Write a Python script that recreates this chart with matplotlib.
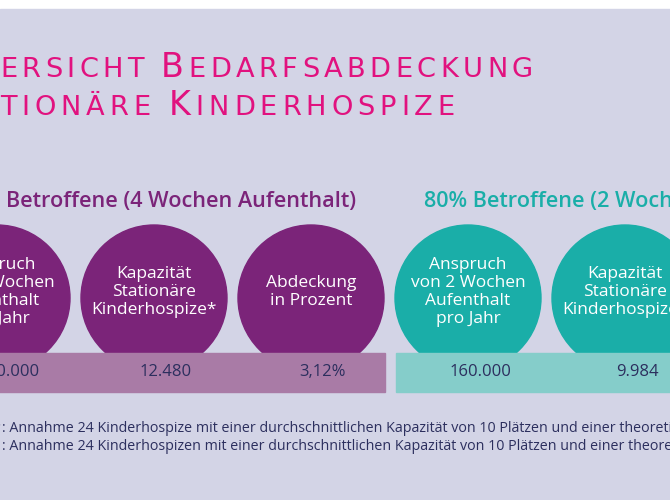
import matplotlib.pyplot as plt
from matplotlib.patches import Circle, Rectangle

# -------------------------
# Data
# -------------------------
title_line1 = [("Ü", "big"), ("B", "small"), ("ERSICHT ", "small"), ("B", "big"), ("EDARFSABDECKUNG", "small")]
title_line2 = [("S", "big"), ("TA", "small"), ("TIONÄRE ", "small"), ("K", "big"), ("INDERHOSPIZE", "small")]

group_titles = ["100% Betroffene (4 Wochen Aufenthalt)", "80% Betroffene (2 Wochen Aufenthalt)"]

labels_4w = ["Anspruch\nvon 4 Wochen\nAufenthalt\npro Jahr", "Kapazität\nStationäre\nKinderhospize*", "Abdeckung\nin Prozent"]
values_4w = ["400.000", "12.480", "3,12%"]

labels_2w = ["Anspruch\nvon 2 Wochen\nAufenthalt\npro Jahr", "Kapazität\nStationäre\nKinderhospize*", "Abdeckung\nin Prozent"]
values_2w = ["160.000", "9.984", "6,24%"]

footnotes = [
    ("*", ": Annahme 24 Kinderhospize mit einer durchschnittlichen Kapazität von 10 Plätzen und einer theoretischen Auslastung von 52 Wochen"),
    ("**", ": Annahme 24 Kinderhospizen mit einer durchschnittlichen Kapazität von 10 Plätzen und einer theoretischen Auslastung von 80%"),
]

# colours
BG = "#d3d4e6"
MAGENTA = "#e1127f"
PURPLE = "#7b2479"
PURPLE_BAR = "#a97ba6"
TEAL = "#1aaea8"
TEAL_BAR = "#85cdca"
NAVY = "#2c2f5e"

FONT = "Open Sans"
TITLE_FONT = "DejaVu Sans"

# -------------------------
# Canvas in pixel coordinates
# -------------------------
fig = plt.figure(figsize=(6.7, 5.0), dpi=100)
ax = fig.add_axes([0, 0, 1, 1])
ax.set_xlim(0, 670)
ax.set_ylim(500, 0)
ax.axis("off")
fig.patch.set_facecolor("white")

ax.add_patch(Rectangle((0, 9), 670, 491, color=BG, zorder=0))

fig.canvas.draw()
renderer = fig.canvas.get_renderer()

BIG, SMALL = 24, 19.6


def lay_out(chars, x, tracking, keep):
    # draws the characters one by one from x, returns the end position
    cx = x
    for ch, size in chars:
        if ch == " ":
            cx += size * 100 / 72 * 0.3 + tracking
            continue
        t = ax.text(cx, 0, ch, fontsize=size, color=MAGENTA, family=TITLE_FONT,
                    ha="left", va="baseline")
        w = t.get_window_extent(renderer=renderer).width
        if not keep:
            t.remove()
        else:
            t.set_y(keep)
        cx += w + tracking
    return cx


def small_caps(pieces, y, start_index, target_width):
    chars = [(ch, BIG if kind == "big" else SMALL) for s, kind in pieces for ch in s]
    n_before = sum(len(s) for s, _ in pieces[:start_index])
    visible = chars[n_before:]
    natural = lay_out(visible, 0, 0, None)
    tracking = (target_width - natural) / (len(visible) - 1)
    lay_out(visible, 0, tracking, y)
    # hidden part left of the edge
    lead = chars[:n_before]
    w_lead = lay_out(lead, 0, tracking, None)
    lay_out(lead, -w_lead, tracking, y)


small_caps(title_line1, 77, 2, 533)
small_caps(title_line2, 115, 2, 455)

# -------------------------
# Circles and bars
# -------------------------
r = 73
spacing = 157
first_x = -3
circle_y = 298
bar_top, bar_h = 353, 39

groups = [
    (labels_4w, values_4w, PURPLE, PURPLE_BAR),
    (labels_2w, values_2w, TEAL, TEAL_BAR),
]

for g, (labels, values, col, bar_col) in enumerate(groups):
    xs = [first_x + spacing * (g * 3 + i) for i in range(len(labels))]

    if g == 0:
        # the percentage part lies left of the visible area
        pct, rest = group_titles[g].split(" ", 1)
        ax.text(6, 207, rest, fontsize=15.6, color=col, family=FONT,
                fontweight="semibold", ha="left", va="baseline")
        ax.text(6, 207, pct + " ", fontsize=15.6, color=col, family=FONT,
                fontweight="semibold", ha="right", va="baseline")
    else:
        ax.text(424, 207, group_titles[g], fontsize=15.6, color=col, family=FONT,
                fontweight="semibold", ha="left", va="baseline")

    for xc, lab in zip(xs, labels):
        ax.add_patch(Circle((xc, circle_y), r, color=col, zorder=2))
        ax.text(xc, 292, lab, fontsize=12.5, color="white", family=FONT,
                ha="center", va="center", linespacing=1.18, zorder=3)

    ax.add_patch(Rectangle((xs[0] - r + 1, bar_top), xs[-1] - xs[0] + 2 * r, bar_h,
                           color=bar_col, zorder=4))
    for xc, v in zip(xs, values):
        ax.text(xc + 12, bar_top + bar_h / 2, v, fontsize=12, color=NAVY, family=FONT,
                ha="center", va="center", zorder=5)

# -------------------------
# Footnotes
# -------------------------
for i, (star, note) in enumerate(footnotes):
    y = 432 + 18 * i
    ax.text(2, y, note, fontsize=10.3, color=NAVY, family=FONT, ha="left", va="baseline")
    ax.text(0, y, star, fontsize=10.3, color=NAVY, family=FONT, ha="right", va="baseline")

fig.savefig("out.png", dpi=100, facecolor=fig.get_facecolor())
